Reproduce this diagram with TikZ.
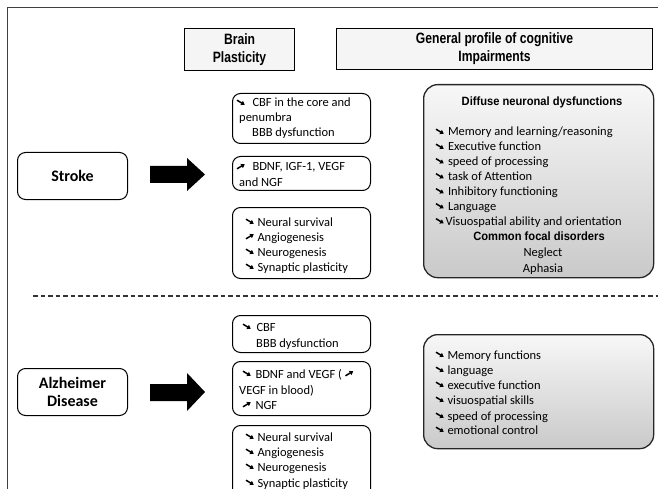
\documentclass[tikz,border=0pt]{standalone}
\usepackage{fontspec}
\usetikzlibrary{arrows.meta}
\setmainfont{Carlito}
\newfontfamily\hdrfont[FakeStretch=0.81]{Liberation Sans}
\newfontfamily\subfont[FakeStretch=0.93]{Liberation Sans}
\newcommand\dnar{\tikz[baseline=0pt]{\draw[line width=1.5pt, -{Triangle[length=3.6pt,width=4.6pt]}] (0pt,6.8pt) -- (7.8pt,2.2pt);}}
\newcommand\upar{\tikz[baseline=0pt]{\draw[line width=1.5pt, -{Triangle[length=3.6pt,width=4.6pt]}] (0pt,2.2pt) -- (7.8pt,6.8pt);}}
\begin{document}
\begin{tikzpicture}[x=1pt,y=-1pt,
  hdrbox/.style={draw=black, line width=1.1pt, fill=gray!8, rectangle, anchor=north west, inner sep=0, align=center, font=\hdrfont\bfseries\fontsize{15}{18}\selectfont},
  rbox/.style={draw=black, line width=1pt, rounded corners=8pt, anchor=north west, inner sep=0},
  dzbox/.style={rbox, align=center, font=\bfseries\fontsize{16}{18}\selectfont, minimum width=110pt, minimum height=47pt},
  graybox/.style={draw=black!85, line width=1.3pt, rounded corners=14pt, top color=gray!6, bottom color=gray!42, anchor=north west, inner sep=0},
  txt/.style={anchor=base west, inner sep=0, font=\fontsize{12.5}{15}\selectfont},
  ctxt/.style={anchor=base, inner sep=0, font=\fontsize{12.5}{15}\selectfont},
  subtitle/.style={anchor=base, inner sep=0, font=\subfont\bfseries\fontsize{12}{14}\selectfont},
  fatarrow/.style={fill=black}]
\useasboundingbox (0,0) rectangle (658,489);
\clip (0,0) rectangle (658,489);
% frame
\draw[black!75, line width=1pt] (7,495) -- (7,8) -- (662,8);
% headers
\node[hdrbox, minimum width=110pt, minimum height=42pt] (bp) at (184,28) {Brain\\Plasticity};
\node[hdrbox, minimum width=316pt, minimum height=41pt] (gp) at (336,28) {General profile of cognitive\\Impairments};
% disease boxes
\node[dzbox] (stroke) at (17,152) {Stroke};
\node[dzbox] (ad) at (17,368) {Alzheimer\\Disease};
% fat arrows
\fill[fatarrow] (150,166) -- (187,166) -- (187,158) -- (205,174.5) -- (187,191) -- (187,183) -- (150,183) -- cycle;
\fill[fatarrow] (150,384) -- (187,384) -- (187,373) -- (205,392) -- (187,411) -- (187,401) -- (150,401) -- cycle;
% stroke plasticity boxes
\node[rbox, minimum width=138pt, minimum height=50pt] (s1) at (232,93) {};
\node[txt] (s1a) at (236,107) {\dnar\hspace{7pt}CBF in the core and};
\node[txt] (s1b) at (239,122) {penumbra};
\node[txt] (s1c) at (252,137) {BBB dysfunction};
\node[rbox, minimum width=138pt, minimum height=34pt] (s2) at (232,156) {};
\node[txt] (s2a) at (236,171) {\upar\hspace{7pt}BDNF, IGF-1, VEGF};
\node[txt] (s2b) at (239,186) {and NGF};
\node[rbox, minimum width=138pt, minimum height=71pt] (s3) at (232,207) {};
\node[txt] (s3a) at (245,226) {\dnar\hspace{3pt}Neural survival};
\node[txt] (s3b) at (245,241) {\upar\hspace{3pt}Angiogenesis};
\node[txt] (s3c) at (245,256) {\dnar\hspace{3pt}Neurogenesis};
\node[txt] (s3d) at (245,271) {\dnar\hspace{3pt}Synaptic plasticity};
% stroke cognitive box
\node[graybox, minimum width=230pt, minimum height=193pt] (sg) at (423,84) {};
\node[subtitle] (sgt) at (542,106) {Diffuse neuronal dysfunctions};
\node[txt] (sg1) at (435,136) {\dnar\hspace{3.5pt}Memory and learning/reasoning};
\node[txt] (sg2) at (435,151) {\dnar\hspace{3.5pt}Executive function};
\node[txt] (sg3) at (435,165.5) {\dnar\hspace{3.5pt}speed of processing};
\node[txt] (sg4) at (435,180.5) {\dnar\hspace{3.5pt}task of Attention};
\node[txt] (sg5) at (435,195.5) {\dnar\hspace{3.5pt}Inhibitory functioning};
\node[txt] (sg6) at (435,210.5) {\dnar\hspace{3.5pt}Language};
\node[txt] (sg7) at (435,225.5) {\dnar\hspace{1pt}Visuospatial ability and orientation};
\node[subtitle] (sgc) at (539,240.5) {Common focal disorders};
\node[ctxt] (sg8) at (543,256) {Neglect};
\node[ctxt] (sg9) at (543,272) {Aphasia};
% dashed separator
\draw[black!80, line width=1.6pt, dash pattern=on 4.5pt off 3pt] (33,296) -- (660,296);
% AD plasticity boxes
\node[rbox, minimum width=138pt, minimum height=37pt] (a1) at (232,315) {};
\node[txt] (a1a) at (242,331) {\dnar\hspace{5pt}CBF};
\node[txt] (a1b) at (256,347) {BBB dysfunction};
\node[rbox, minimum width=138pt, minimum height=54pt] (a2) at (232,361) {};
\node[txt] (a2a) at (242,378) {\dnar\hspace{4pt}BDNF and VEGF ( \upar};
\node[txt] (a2b) at (239,394) {VEGF in blood)};
\node[txt] (a2c) at (242,409) {\upar\hspace{4pt}NGF};
\node[rbox, minimum width=138pt, minimum height=75pt] (a3) at (232,425) {};
\node[txt] (a3a) at (245,441) {\dnar\hspace{3pt}Neural survival};
\node[txt] (a3b) at (245,456) {\dnar\hspace{3pt}Angiogenesis};
\node[txt] (a3c) at (245,471) {\dnar\hspace{3pt}Neurogenesis};
\node[txt] (a3d) at (245,487) {\dnar\hspace{3pt}Synaptic plasticity};
% AD cognitive box
\node[graybox, minimum width=230pt, minimum height=114pt] (ag) at (423,334) {};
\node[txt] (ag1) at (435,359) {\dnar\hspace{3pt}Memory functions};
\node[txt] (ag2) at (435,374) {\dnar\hspace{3pt}language};
\node[txt] (ag3) at (435,389) {\dnar\hspace{3pt}executive function};
\node[txt] (ag4) at (435,404) {\dnar\hspace{3pt}visuospatial skills};
\node[txt] (ag5) at (435,420) {\dnar\hspace{3pt}speed of processing};
\node[txt] (ag6) at (435,434) {\dnar\hspace{3pt}emotional control};
\end{tikzpicture}
\end{document}
